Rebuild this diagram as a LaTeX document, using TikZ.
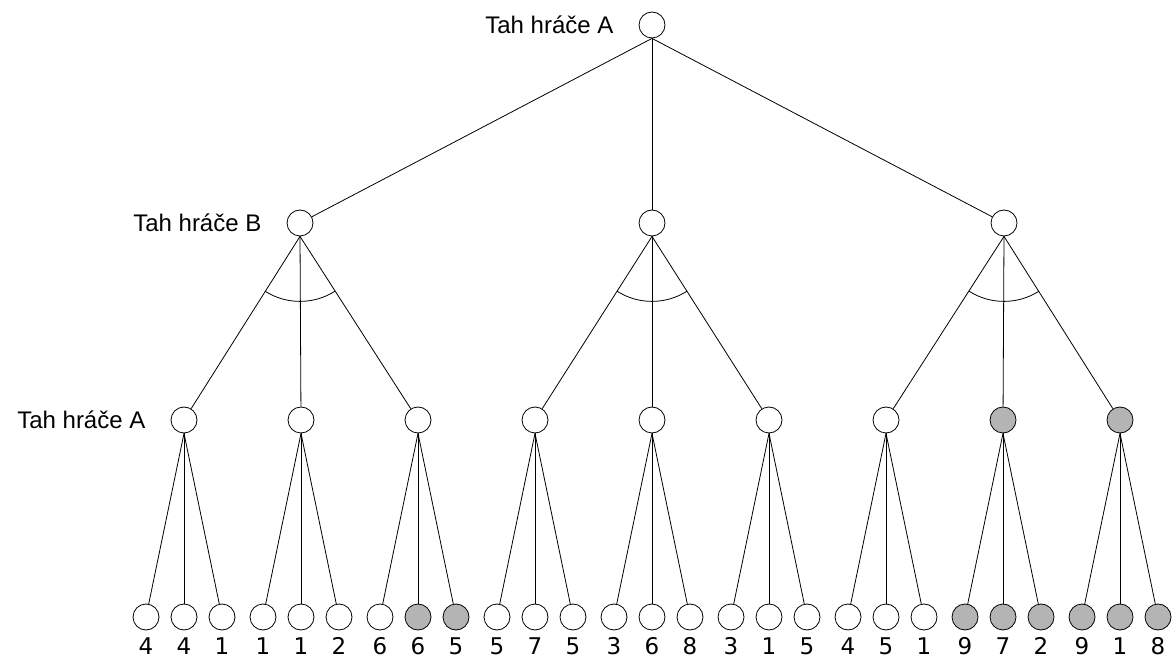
\documentclass[tikz,border=0pt]{standalone}
\usepackage{fontspec}
\setmainfont{Liberation Sans}
\newfontfamily\digitfont{DejaVu Sans}
\usetikzlibrary{positioning, calc}
\definecolor{chosen}{HTML}{B4B4B4}

\begin{document}
\begin{tikzpicture}[x=1pt, y=1pt,
  state/.style={draw, circle, inner sep=0pt, minimum size=26pt, line width=0.8pt},
  best/.style={state, fill=chosen},
  lbl/.style={font=\fontsize{24}{28}\selectfont, inner sep=0pt},
  val/.style={font=\digitfont\fontsize{23}{27}\selectfont, inner sep=0pt, anchor=base},
  edge/.style={line width=0.8pt}
]
\useasboundingbox (0,0) rectangle (1175,659);

% move of A at the top, replies of B below it
\node[state] (root) at (652,634) {};
\foreach \i/\x in {1/300, 2/652, 3/1004} {
  \node[state] (b\i) at (\x,436) {};
  \draw[edge] (root.south) -- (b\i);
  \draw[edge] ([shift={(237.5:65)}]b\i.south) arc[start angle=237.5, end angle=302.5, radius=65];
}

% second move of A
\foreach \j/\s in {1/state, 2/state, 3/state, 4/state, 5/state, 6/state, 7/state, 8/best, 9/best} {
  \pgfmathsetmacro{\x}{652+117*(\j-5)}
  \pgfmathtruncatemacro{\p}{(\j+2)/3}
  \node[\s] (a\j) at (\x,239) {};
  \draw[edge] (b\p.south) -- (a\j);
}

% leaves with their values
\foreach \k/\v/\s in {1/4/state, 2/4/state, 3/1/state, 4/1/state, 5/1/state, 6/2/state,
    7/6/state, 8/6/best, 9/5/best, 10/5/state, 11/7/state, 12/5/state,
    13/3/state, 14/6/state, 15/8/state, 16/3/state, 17/1/state, 18/5/state,
    19/4/state, 20/5/state, 21/1/state, 22/9/best, 23/7/best, 24/2/best,
    25/9/best, 26/1/best, 27/8/best} {
  \pgfmathtruncatemacro{\p}{(\k+2)/3}
  \pgfmathsetmacro{\x}{652+117*(\p-5)+38*(\k-3*\p+1)}
  \node[state, \s] (l\k) at (\x,42) {};
  \draw[edge] (a\p.south) -- (l\k);
  \node[val] (v\k) at (\x,5) {\v};
}

\node[lbl, left=25pt of root] (rootlbl) {Tah hráče A};
\node[lbl, left=25pt of b1] (blbl) {Tah hráče B};
\node[lbl, left=25pt of a1] (albl) {Tah hráče A};
\end{tikzpicture}
\end{document}
